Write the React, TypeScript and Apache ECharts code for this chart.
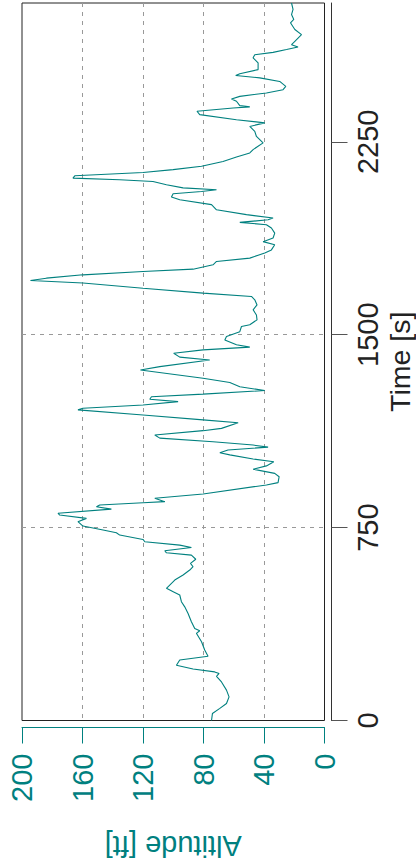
import React, { useEffect, useRef } from "react";
import * as echarts from "echarts";

const TIME_S: number[] = [
  0, 27, 47, 66, 92, 118, 150, 172, 183, 189, 200, 215, 235, 250, 274, 306, 339, 349, 358, 384,
  416, 442, 462, 488, 500, 514, 546, 566, 585, 598, 611, 627, 643, 652, 660, 673, 682, 695, 704, 721,
  730, 741, 756, 773, 786, 799, 806, 822, 831, 838, 847, 851, 864, 881, 916, 925, 948, 961, 977, 990,
  1006, 1017, 1033, 1041, 1052, 1063, 1071, 1084, 1098, 1110, 1127, 1136, 1158, 1169, 1188, 1208, 1214, 1227, 1240, 1249,
  1259, 1269, 1283, 1298, 1314, 1331, 1363, 1376, 1402, 1413, 1428, 1441, 1452, 1461, 1480, 1493, 1512, 1532, 1539, 1558,
  1577, 1597, 1616, 1636, 1649, 1662, 1681, 1701, 1711, 1720, 1733, 1746, 1755, 1772, 1785, 1798, 1818, 1830, 1850, 1862,
  1876, 1895, 1915, 1928, 1937, 1947, 1954, 1967, 1986, 2006, 2025, 2036, 2048, 2057, 2064, 2071, 2083, 2096, 2103, 2109,
  2118, 2131, 2142, 2155, 2174, 2191, 2207, 2220, 2246, 2271, 2291, 2310, 2324, 2336, 2356, 2369, 2382, 2386, 2391, 2408,
  2417, 2427, 2440, 2453, 2466, 2485, 2499, 2508, 2515, 2531, 2557, 2577, 2589, 2598, 2609, 2619, 2628, 2641, 2667, 2687,
  2713, 2726, 2745, 2765, 2790,
];

const ALTITUDE_FT: number[] = [
  74.7, 74.1, 69.2, 64.8, 63.1, 64.8, 68.1, 71.4, 69.7, 72.6, 86.9, 97.9, 95.7, 77.0, 79.2, 81.3, 84.7, 82.5, 85.8, 88.0,
  90.2, 92.4, 94.6, 95.7, 99.7, 104.5, 99.0, 93.5, 89.1, 86.9, 88.6, 85.1, 88.0, 104.5, 105.6, 88.0, 95.7, 118.8, 120.0, 135.4,
  137.6, 146.4, 159.7, 163.0, 157.4, 175.1, 176.2, 140.9, 150.8, 148.6, 120.0, 105.6, 112.2, 80.3, 38.4, 30.7, 30.0, 32.9, 47.2, 38.4,
  33.5, 47.2, 62.6, 69.2, 63.8, 37.3, 47.2, 73.7, 108.9, 112.2, 80.3, 68.1, 57.1, 80.3, 120.0, 163.0, 159.7, 120.0, 96.8, 115.5,
  114.4, 80.3, 39.5, 56.0, 62.6, 80.3, 121.7, 108.9, 75.9, 95.7, 99.7, 80.3, 49.4, 58.2, 65.9, 64.8, 56.0, 54.9, 49.4, 44.6,
  45.0, 47.2, 44.6, 46.1, 48.3, 80.3, 120.0, 159.7, 194.4, 183.9, 159.7, 120.0, 86.9, 73.7, 71.4, 49.4, 39.5, 35.1, 32.9, 40.6,
  34.0, 32.9, 35.1, 38.4, 56.0, 37.3, 34.0, 51.6, 71.4, 74.7, 95.7, 101.2, 100.1, 81.3, 71.4, 93.5, 104.5, 113.4, 135.4, 166.3,
  165.1, 120.0, 100.1, 81.3, 67.1, 58.2, 49.4, 47.2, 40.6, 45.0, 46.1, 49.4, 39.5, 58.2, 82.5, 84.3, 60.4, 49.4, 56.0, 58.2,
  61.5, 56.0, 38.4, 27.4, 25.6, 29.6, 42.8, 58.7, 56.0, 43.9, 43.9, 47.2, 46.1, 34.0, 25.1, 17.5, 21.8, 19.6, 15.2, 19.6,
  22.5, 20.3, 21.8, 20.8, 21.8,
];

const TIME_TICKS: number[] = [0, 750, 1500, 2250];

const TEAL = "#00807f";
const FONT = "'Liberation Sans', Arial, Helvetica, sans-serif";

export default function App() {
  const ref = useRef<HTMLDivElement>(null);

  useEffect(() => {
    if (!ref.current) return;
    const chart = echarts.init(ref.current, undefined, { renderer: "svg" });
    const data = TIME_S.map((t, i) => [ALTITUDE_FT[i], t]);
    chart.setOption({
      animation: false,
      backgroundColor: "#ffffff",
      grid: {
        left: 22,
        top: 3,
        width: 302.5,
        height: 717.5,
        show: true,
        borderColor: "#222",
        borderWidth: 1,
        backgroundColor: "transparent",
        containLabel: false,
        outerBoundsMode: "none",
      },
      xAxis: {
        type: "value",
        min: 0,
        max: 200,
        interval: 40,
        inverse: true,
        position: "bottom",
        offset: 7,
        axisLine: { show: true, onZero: false, lineStyle: { color: TEAL, width: 1 } },
        axisTick: { show: true, length: 16, lineStyle: { color: TEAL, width: 1 } },
        axisLabel: {
          rotate: 90,
          margin: 26,
          color: TEAL,
          fontSize: 29,
          fontFamily: FONT,
          formatter: (v: number) => String(v),
        },
        splitLine: {
          show: true,
          showMinLine: false,
          showMaxLine: false,
          lineStyle: { color: "#999", width: 1, type: [4, 5] },
        },
        name: "Altitude [ft]",
        nameLocation: "middle",
        nameGap: 104,
        nameRotate: 180,
        nameTextStyle: { color: TEAL, fontSize: 29, fontFamily: FONT },
      },
      yAxis: {
        type: "value",
        min: 0,
        max: 2790,
        interval: 750,
        position: "right",
        offset: 7,
        axisLine: { show: true, onZero: false, lineStyle: { color: "#333", width: 1 } },
        axisTick: { show: true, length: 16, lineStyle: { color: "#555", width: 1 }, customValues: TIME_TICKS },
        axisLabel: {
          rotate: 90,
          margin: 22,
          color: "#222",
          fontSize: 29,
          fontFamily: FONT,
          customValues: TIME_TICKS,
          formatter: (v: number) => String(v),
        },
        splitLine: {
          show: true,
          showMinLine: false,
          showMaxLine: false,
          lineStyle: { color: "#999", width: 1, type: [4, 5] },
        },
        name: "Time [s]",
        nameLocation: "middle",
        nameGap: 54,
        nameMoveOverlap: false,
        nameRotate: 90,
        nameTextStyle: { color: "#222", fontSize: 28.5, lineHeight: 28, fontFamily: FONT },
      },
      series: [
        {
          type: "line",
          data,
          showSymbol: false,
          symbol: "none",
          lineStyle: { color: TEAL, width: 1.1 },
          itemStyle: { color: TEAL },
        },
      ],
    });
    return () => chart.dispose();
  }, []);

  return (
    <div
      ref={ref}
      style={{ position: "absolute", left: 0, top: 0, width: 416, height: 867 }}
    />
  );
}
